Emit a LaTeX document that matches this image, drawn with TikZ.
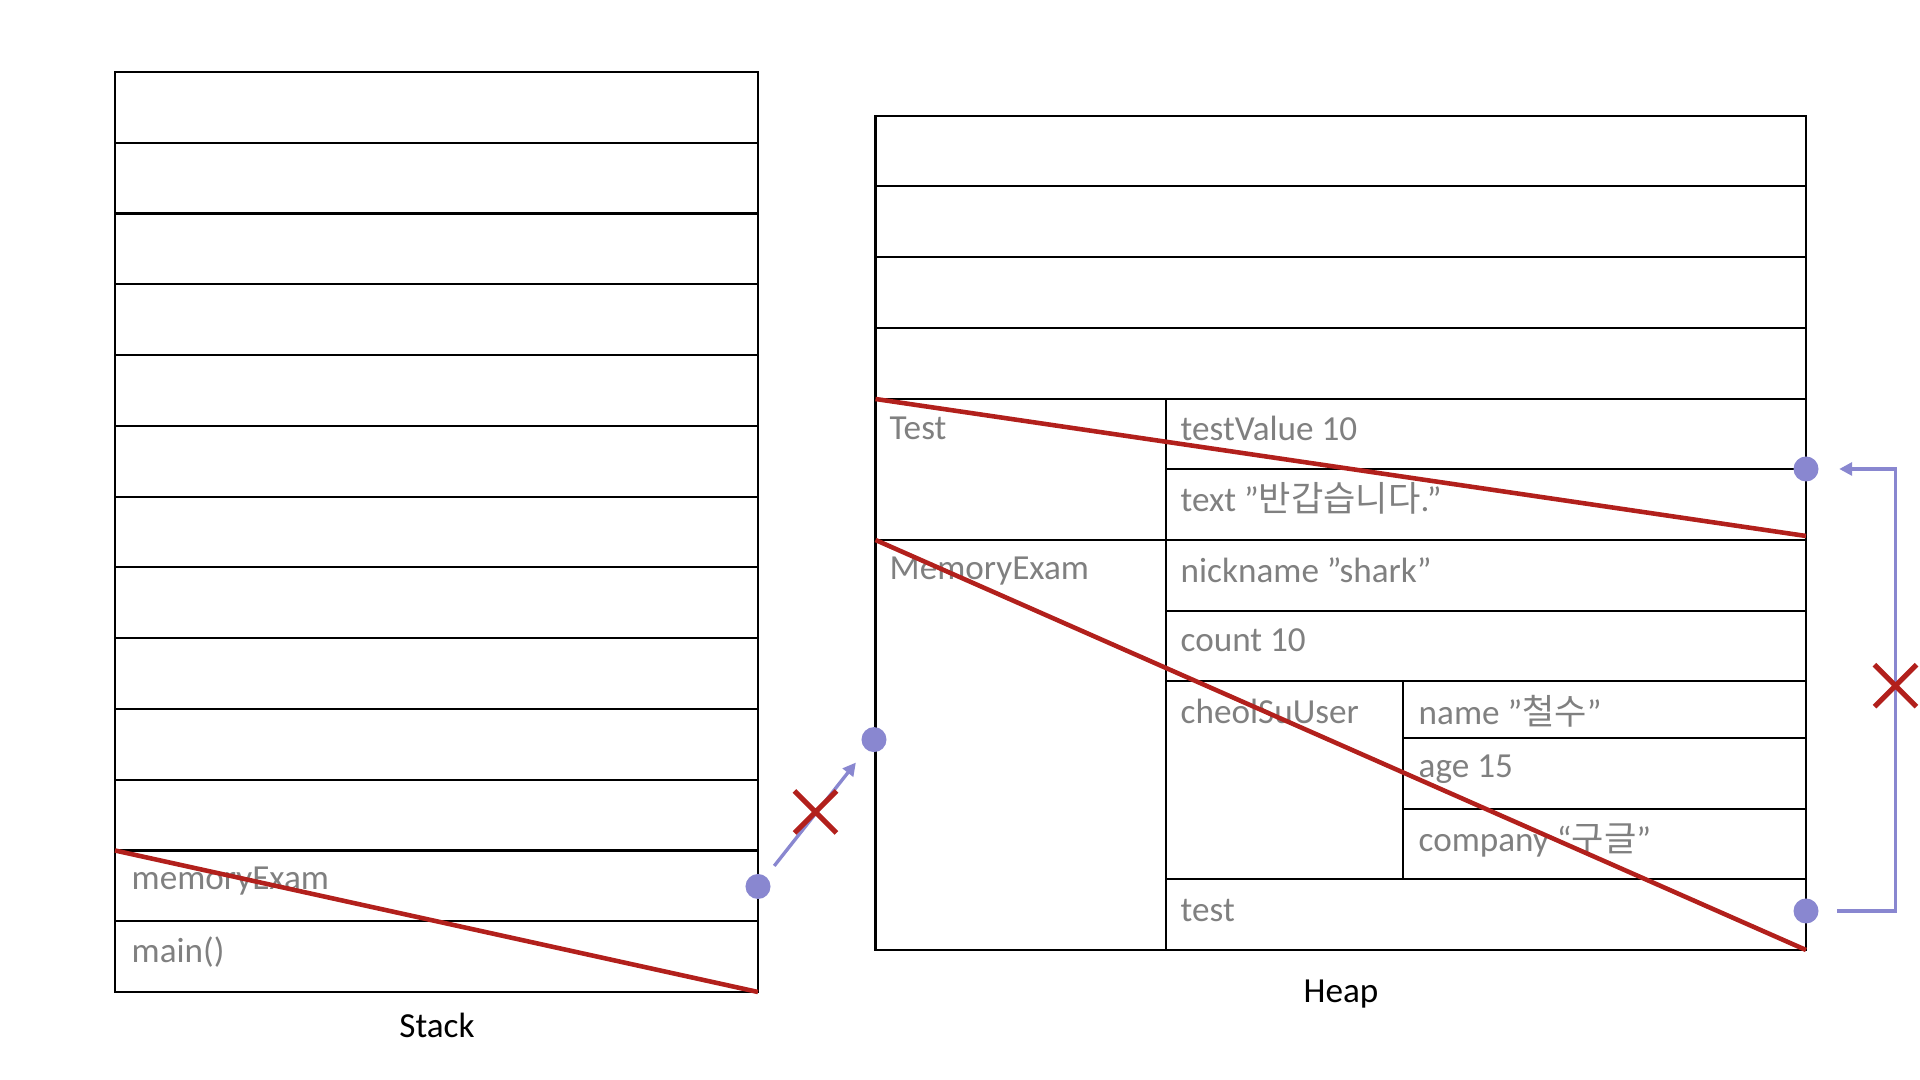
\documentclass[tikz,border=0pt]{standalone}
\usepackage{fontspec}
\setmainfont{Carlito}
\newfontfamily\krfont{Noto Sans CJK KR}
\usepackage{tikz}
\usetikzlibrary{arrows.meta,positioning,calc}
\definecolor{crossred}{RGB}{178,32,28}
\definecolor{purp}{RGB}{137,135,208}
\definecolor{txtgray}{RGB}{128,128,128}

\begin{document}
\begin{tikzpicture}[>={Triangle[length=0.13cm,width=0.13cm]}, x=0.01cm, y=-0.01cm,
	cell/.style={anchor=west, text=txtgray, inner sep=0pt, font=\fontsize{10}{12}\selectfont},
	title/.style={inner sep=0pt, font=\fontsize{10}{12}\selectfont},
	grid/.style={line width=0.62pt},
	cross/.style={line width=1.3pt, crossred},
	xmark/.style={line width=1.45pt, crossred},
	dot/.style={circle, fill=purp, inner sep=0pt, minimum size=0.25cm},
	link/.style={line width=0.95pt, purp}]
	\useasboundingbox (0,0) rectangle (1920,1080);

	% ===================== Stack =====================
	\begin{scope}
		\path
		(115,72)  coordinate (s_tl)
		(758,992) coordinate (s_br)
		(115,850.5) coordinate (s_cut);

		\draw[grid] (s_tl) rectangle (s_br);
		\foreach \i in {1,...,12}
			\draw[grid] (115,{72+\i*70.77}) -- (758,{72+\i*70.77});

		% labels
		\node[cell] (memexam) at (131,881) {memoryExam};
		\node[cell] (mainfn) at (131,952) {main()};
		\node[title] (stacklbl) at (437,1025) {Stack};

		% red line
		\draw[cross] (s_cut) -- (s_br);
	\end{scope}

	% ===================== Heap =====================
	\begin{scope}
		\path
		(875.5,116) coordinate (h_tl)
		(1806,950)  coordinate (h_br)
		(875.5,399) coordinate (h_test)
		(875.5,540) coordinate (h_mem)
		(1806,536)  coordinate (h_testend);

		\draw[grid] (h_tl) rectangle (h_br);
		\foreach \y in {186,257,328,399,540}
			\draw[grid] (875.5,\y) -- (1806,\y);
		\foreach \y in {469,611,681,879}
			\draw[grid] (1165.7,\y) -- (1806,\y);
		\foreach \y in {738,809}
			\draw[grid] (1403.3,\y) -- (1806,\y);
		\draw[grid] (1165.7,399) -- (1165.7,950);
		\draw[grid] (1403.3,681) -- (1403.3,879);

		% labels
		\node[cell] (testcls) at (889,428.6) {Test};
		\node[cell] (testval) at (1180,428.6) {testValue 10};
		\node[cell] (textval) at (1180,498) {text ”{\krfont 반갑습니다}.”};
		\node[cell] (memcls) at (889,570.6) {MemoryExam};
		\node[cell] (nickval) at (1180,570.6) {nickname ”shark”};
		\node[cell] (countval) at (1180,640.4) {count 10};
		\node[cell] (userval) at (1180,711.4) {cheolSuUser};
		\node[cell] (nameval) at (1418,711.4) {name ”{\krfont 철수}”};
		\node[cell] (ageval) at (1418,769) {age 15};
		\node[cell] (compval) at (1418,840) {company “{\krfont 구글}”};
		\node[cell] (testref) at (1180,911) {test};
		\node[title] (heaplbl) at (1341,994) {Heap};

		% red lines
		\draw[cross] (h_test) -- (h_testend);
		\draw[cross] (h_mem) -- (h_br);
	\end{scope}

	% ===================== references =====================
	\node[dot] (sdot) at (758,886.5) {};
	\node[dot] (hdot) at (874,739.6) {};
	\node[dot] (tdot) at (1806,469) {};
	\node[dot] (bdot) at (1806,911) {};
	\coordinate (brk) at (1895.5,690);

	\draw[link, ->, shorten <=0.13cm, shorten >=0.16cm] (sdot) -- (hdot);
	\draw[link, <-, shorten <=0.2cm, shorten >=0.18cm] (tdot) -| (brk) |- (bdot);

	% crosses
	\coordinate (x1) at (815.5,812);
	\coordinate (x2) at (1895.5,685.7);
	\foreach \c in {x1,x2}
		\draw[xmark] (\c) ++(-21,-21) -- ++(42,42) (\c) ++(-21,21) -- ++(42,-42);
\end{tikzpicture}
\end{document}
